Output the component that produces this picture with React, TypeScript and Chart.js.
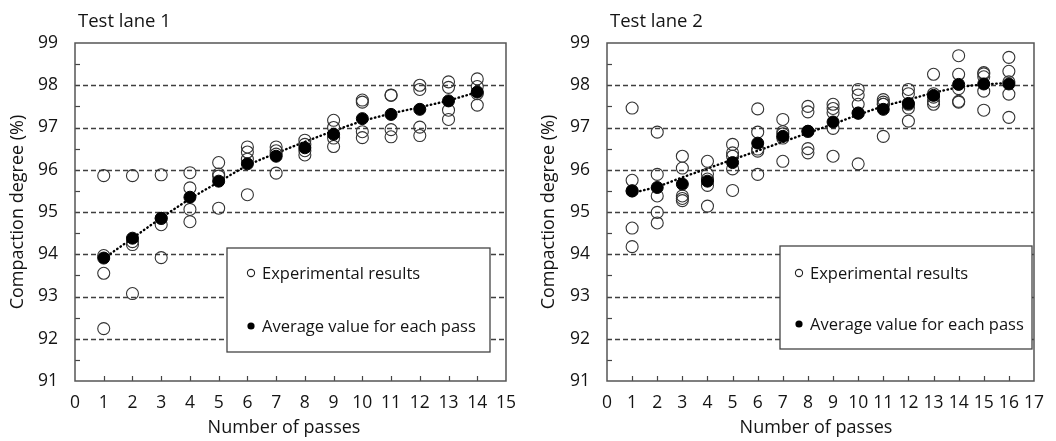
import React, { useEffect, useRef } from "react";
import { Chart, registerables } from "chart.js";

Chart.register(...registerables);

const FONT = "'Open Sans', 'Noto Sans', sans-serif";

// ---------------- Data: Test lane 1 ----------------
const lane1Passes = [1, 2, 3, 4, 5, 6, 7, 8, 9, 10, 11, 12, 13, 14];
const lane1Experimental = [
  [95.86, 93.97, 93.55, 92.24],
  [95.86, 94.3, 94.23, 93.07],
  [95.88, 94.85, 94.7, 93.92],
  [95.93, 95.57, 95.06, 94.77],
  [96.17, 95.9, 95.85, 95.09],
  [96.54, 96.42, 96.25, 95.41],
  [96.54, 96.45, 96.37, 95.92],
  [96.7, 96.6, 96.45, 96.35],
  [97.17, 97.0, 96.75, 96.55],
  [97.65, 97.6, 96.9, 96.76],
  [97.77, 97.76, 96.95, 96.78],
  [98.0, 97.9, 97.01, 96.81],
  [98.08, 97.95, 97.41, 97.19],
  [98.15, 97.97, 97.8, 97.53],
];
const lane1Average = [93.91, 94.38, 94.85, 95.35, 95.73, 96.14, 96.32, 96.52, 96.84, 97.21, 97.31, 97.43, 97.63, 97.84];
const lane1Trend = [93.9, 94.38, 94.86, 95.31, 95.71, 96.1, 96.39, 96.66, 96.92, 97.15, 97.33, 97.48, 97.64, 97.84];

// ---------------- Data: Test lane 2 ----------------
const lane2Passes = [1, 2, 3, 4, 5, 6, 7, 8, 9, 10, 11, 12, 13, 14, 15, 16];
const lane2Experimental = [
  [97.46, 95.75, 95.5, 94.62, 94.18],
  [96.89, 95.89, 95.38, 94.99, 94.74],
  [96.32, 96.04, 95.38, 95.32, 95.27],
  [96.2, 95.9, 95.78, 95.63, 95.14],
  [96.6, 96.4, 96.32, 96.02, 95.51],
  [97.44, 96.89, 96.49, 96.44, 95.89],
  [97.19, 96.9, 96.85, 96.75, 96.2],
  [97.5, 97.37, 96.91, 96.5, 96.4],
  [97.55, 97.45, 97.35, 96.98, 96.32],
  [97.9, 97.77, 97.55, 97.34, 96.14],
  [97.66, 97.6, 97.55, 97.55, 96.79],
  [97.9, 97.8, 97.55, 97.46, 97.15],
  [98.26, 97.8, 97.72, 97.62, 97.55],
  [98.7, 98.26, 97.92, 97.62, 97.6],
  [98.3, 98.27, 98.2, 97.86, 97.41],
  [98.66, 98.33, 98.08, 97.79, 97.24],
];
const lane2Average = [95.5, 95.58, 95.66, 95.73, 96.17, 96.63, 96.79, 96.91, 97.13, 97.34, 97.43, 97.57, 97.76, 98.02, 98.03, 98.03];
const lane2Trend = [95.45, 95.6, 95.82, 96.03, 96.24, 96.45, 96.66, 96.87, 97.08, 97.3, 97.5, 97.66, 97.82, 97.95, 98.02, 98.05];

// ---------------- Labels ----------------
const yMin = 91;
const yMax = 99;
const yTitle = "Compaction degree (%)";
const xTitle = "Number of passes";
const expLabel = "Experimental results";
const avgLabel = "Average value for each pass";

const TEXT = "#141414";

const decorPlugin = {
  id: "decor",
  beforeDatasetsDraw(chart: any, _args: any, opts: any) {
    const { ctx, chartArea: a } = chart;
    const x = chart.scales.x;
    const y = chart.scales.y;
    ctx.save();
    // dashed gridlines
    ctx.strokeStyle = "#3f3f3f";
    ctx.lineWidth = 1.3;
    ctx.setLineDash([5, 3]);
    for (let v = yMin + 1; v < yMax; v++) {
      const py = Math.round(y.getPixelForValue(v)) + 0.5;
      ctx.beginPath();
      ctx.moveTo(a.left, py);
      ctx.lineTo(a.right, py);
      ctx.stroke();
    }
    ctx.setLineDash([]);
    ctx.strokeStyle = "#444";
    ctx.lineWidth = 1.2;
    // minor y ticks (inside)
    for (let v = yMin + 0.5; v < yMax; v += 1) {
      const py = Math.round(y.getPixelForValue(v)) + 0.5;
      ctx.beginPath();
      ctx.moveTo(a.left, py);
      ctx.lineTo(a.left + 5, py);
      ctx.stroke();
    }
    // x ticks (inside)
    for (let v = 1; v < opts.xMax; v++) {
      const px = Math.round(x.getPixelForValue(v)) + 0.5;
      ctx.beginPath();
      ctx.moveTo(px, a.bottom);
      ctx.lineTo(px, a.bottom - 5);
      ctx.stroke();
    }
    // frame
    ctx.strokeStyle = "#555";
    ctx.lineWidth = 1.5;
    ctx.strokeRect(a.left, a.top, a.right - a.left, a.bottom - a.top);
    ctx.restore();
  },
  afterDraw(chart: any, _args: any, opts: any) {
    const { ctx, chartArea: a } = chart;
    ctx.save();
    ctx.fillStyle = TEXT;
    // chart title
    ctx.font = `18.5px ${FONT}`;
    ctx.textAlign = "left";
    ctx.textBaseline = "middle";
    ctx.fillText(opts.title, a.left + 3, 22);
    // x title
    ctx.font = `18px ${FONT}`;
    ctx.textAlign = "center";
    ctx.fillText(xTitle, opts.xTitleX, 428);
    // y title
    ctx.save();
    ctx.translate(opts.yTitleX, (a.top + a.bottom) / 2);
    ctx.rotate(-Math.PI / 2);
    ctx.fillText(yTitle, 0, 0);
    ctx.restore();
    // legend box
    const lb = opts.legend;
    ctx.fillStyle = "#fff";
    ctx.fillRect(lb.x, lb.y, lb.w, lb.h);
    ctx.strokeStyle = "#444";
    ctx.lineWidth = 1.3;
    ctx.strokeRect(lb.x, lb.y, lb.w, lb.h);
    const ds = chart.data.datasets;
    const rows = [ds[0], ds[1]];
    ctx.font = `16.5px ${FONT}`;
    ctx.textAlign = "left";
    rows.forEach((d: any, i: number) => {
      const cy = lb.y + lb.rowY[i];
      const cx = lb.x + lb.markerX;
      ctx.beginPath();
      ctx.arc(cx, cy, 3.6, 0, Math.PI * 2);
      if (i === 1) {
        ctx.fillStyle = "#000";
        ctx.fill();
      } else {
        ctx.strokeStyle = "#222";
        ctx.lineWidth = 1.1;
        ctx.stroke();
      }
      ctx.fillStyle = TEXT;
      ctx.fillText(d.label, cx + 11, cy + 1);
    });
    ctx.restore();
  },
};

type LaneProps = {
  title: string;
  passes: number[];
  experimental: number[][];
  average: number[];
  trend: number[];
  xMax: number;
  yAxisWidth: number;
  padRight: number;
  xTitleX: number;
  yTitleX: number;
  legend: { x: number; y: number; w: number; h: number; markerX: number; rowY: number[] };
};

function LaneChart(props: LaneProps) {
  const ref = useRef<HTMLCanvasElement | null>(null);
  useEffect(() => {
    if (!ref.current) return;
    const expPoints: { x: number; y: number }[] = [];
    props.passes.forEach((p, i) => {
      props.experimental[i].forEach((v) => expPoints.push({ x: p, y: v }));
    });
    const avgPoints = props.passes.map((p, i) => ({ x: p, y: props.average[i] }));
    const trendPoints = props.passes.map((p, i) => ({ x: p, y: props.trend[i] }));
    const chart = new Chart(ref.current, {
      type: "scatter",
      data: {
        datasets: [
          {
            label: expLabel,
            data: expPoints,
            pointStyle: "circle",
            pointRadius: 6,
            pointBorderWidth: 1.1,
            pointBorderColor: "#333",
            pointBackgroundColor: "rgba(0,0,0,0)",
            order: 2,
          },
          {
            label: avgLabel,
            data: avgPoints,
            pointStyle: "circle",
            pointRadius: 6,
            pointBorderWidth: 1,
            pointBorderColor: "#000",
            pointBackgroundColor: "#000",
            order: 1,
          },
          {
            label: "trend",
            data: trendPoints,
            showLine: true,
            pointRadius: 0,
            borderColor: "#000",
            borderWidth: 2.4,
            borderDash: [0.5, 3.6],
            borderCapStyle: "round",
            cubicInterpolationMode: "monotone",
            order: 3,
          } as any,
        ],
      },
      options: {
        responsive: false,
        animation: false,
        events: [],
        layout: { padding: { left: 0, right: props.padRight, top: 43, bottom: 0 } },
        plugins: {
          legend: { display: false },
          tooltip: { enabled: false },
          decor: {
            title: props.title,
            xMax: props.xMax,
            xTitleX: props.xTitleX,
            yTitleX: props.yTitleX,
            legend: props.legend,
          },
        } as any,
        scales: {
          x: {
            type: "linear",
            min: 0,
            max: props.xMax,
            grid: { display: false, drawTicks: false },
            border: { display: false },
            ticks: {
              stepSize: 1,
              autoSkip: false,
              maxRotation: 0,
              padding: 12,
              color: TEXT,
              font: { family: FONT, size: 17.5 },
            },
            afterFit: (s: any) => {
              s.height = 60;
            },
          },
          y: {
            type: "linear",
            min: yMin,
            max: yMax,
            grid: { display: false, drawTicks: false },
            border: { display: false },
            ticks: {
              stepSize: 1,
              padding: 17,
              color: TEXT,
              font: { family: FONT, size: 17.5 },
            },
            afterFit: (s: any) => {
              s.width = props.yAxisWidth;
            },
          },
        },
      },
      plugins: [decorPlugin as any],
    });
    return () => chart.destroy();
  }, []);
  return <canvas ref={ref} width={528} height={441} style={{ display: "block", width: 528, height: 441 }} />;
}

export default function App() {
  return (
    <div style={{ position: "fixed", left: 0, top: 0, width: 1056, height: 441, background: "#fff", display: "flex" }}>
      <LaneChart
        title="Test lane 1"
        passes={lane1Passes}
        experimental={lane1Experimental}
        average={lane1Average}
        trend={lane1Trend}
        xMax={15}
        yAxisWidth={75}
        padRight={16}
        xTitleX={284}
        yTitleX={18}
        legend={{ x: 227, y: 248, w: 263, h: 104, markerX: 24, rowY: [25, 78] }}
      />
      <LaneChart
        title="Test lane 2"
        passes={lane2Passes}
        experimental={lane2Experimental}
        average={lane2Average}
        trend={lane2Trend}
        xMax={17}
        yAxisWidth={79}
        padRight={13}
        xTitleX={288}
        yTitleX={21}
        legend={{ x: 252, y: 246, w: 252, h: 103, markerX: 19, rowY: [27, 78] }}
      />
    </div>
  );
}
